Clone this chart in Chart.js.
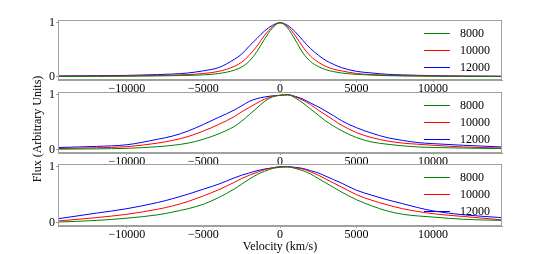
<!DOCTYPE html>
<html>
<head>
<meta charset="utf-8">
<script src="https://cdn.jsdelivr.net/npm/chart.js@4/dist/chart.umd.min.js"></script>
<style>
html,body{margin:0;padding:0;background:#fff;}
#wrap{position:relative;width:538px;height:254px;overflow:hidden;background:#fff;}
canvas{position:absolute;left:0;}
#ytitle{position:absolute;width:200px;left:-63px;top:122px;text-align:center;font:12px 'Liberation Serif',serif;color:#000;transform:rotate(-90deg);transform-origin:50% 50%;white-space:nowrap;line-height:14px;}
</style>
</head>
<body>
<div id="wrap">
<canvas id="c1"></canvas>
<canvas id="c2"></canvas>
<canvas id="c3"></canvas>
<div id="ytitle">Flux (Arbitrary Units)</div>
</div>
<script>
const velocities = [-14500,-12000,-10000,-8000,-7000,-6000,-5000,-4000,-3000,-2500,-2000,-1500,-1000,-500,0,500,1000,1500,2000,2500,3000,3500,4000,5000,6000,7000,8000,9000,10000,12000,14500];
const seriesLabels = ['8000','10000','12000'];
const xTicks = [-10000,-5000,0,5000,10000];
const yTicks = [0,1];

const top8000 = [.005,.008,.01,.015,.02,.025,.035,.06,.12,.18,.29,.47,.70,.90,1,.90,.68,.44,.28,.19,.13,.095,.07,.045,.03,.02,.015,.012,.01,.008,.005];
const top10000 = [.01,.012,.015,.025,.03,.04,.06,.10,.19,.27,.40,.57,.77,.92,1,.93,.76,.55,.38,.27,.19,.14,.11,.06,.04,.03,.02,.018,.015,.01,.008];
const top12000 = [.015,.02,.025,.04,.05,.07,.11,.17,.32,.42,.57,.71,.85,.95,1,.95,.83,.67,.52,.40,.30,.23,.17,.10,.07,.045,.035,.027,.02,.012,.01];

const mid8000 = [.01,.015,.025,.055,.08,.12,.19,.29,.42,.52,.64,.76,.88,.96,.99,1.0,.94,.85,.74,.63,.52,.43,.35,.22,.14,.10,.07,.05,.04,.03,.02];
const mid10000 = [.02,.035,.055,.12,.17,.24,.34,.46,.60,.69,.77,.85,.92,.97,.99,1.0,.96,.90,.82,.72,.63,.54,.45,.31,.22,.16,.12,.10,.08,.05,.03];
const mid12000 = [.04,.06,.09,.19,.25,.34,.46,.59,.72,.80,.88,.93,.96,.98,.99,1.0,.97,.92,.85,.78,.70,.62,.53,.40,.30,.22,.17,.13,.11,.08,.05];

const bot8000 = [.01,.04,.08,.14,.19,.25,.33,.45,.60,.69,.78,.86,.92,.97,.99,1.0,.97,.93,.87,.79,.71,.63,.55,.41,.30,.21,.15,.12,.10,.06,.04];
const bot10000 = [.03,.09,.15,.24,.30,.38,.48,.59,.72,.79,.85,.90,.95,.98,1.0,1.0,.98,.96,.91,.85,.78,.71,.64,.50,.40,.32,.25,.20,.16,.11,.05];
const bot12000 = [.07,.17,.25,.36,.43,.51,.60,.69,.80,.85,.89,.93,.96,.98,1.0,1.0,.99,.97,.93,.89,.83,.77,.71,.58,.49,.41,.34,.27,.21,.14,.09];

const colors = ['#008000','#ff0000','#0000ff'];
const FONT = "'Liberation Serif', 'Times New Roman', serif";
Chart.defaults.font.family = FONT;
Chart.defaults.font.size = 12;
Chart.defaults.color = '#000';

const framePlugin = {
  id: 'frame',
  afterDatasetsDraw(chart) {
    const {ctx, chartArea: a} = chart;
    ctx.save();
    ctx.strokeStyle = '#a0a0a0';
    ctx.lineWidth = 1;
    const l = Math.round(a.left) + 0.5, t = Math.round(a.top) + 0.5;
    const r = Math.round(a.right) - 0.5, b = Math.round(a.bottom) - 0.5;
    ctx.strokeRect(l, t, r - l, b - t);
    ctx.restore();
  }
};

const legendPlugin = {
  id: 'inlegend',
  afterDraw(chart) {
    const {ctx, chartArea: a} = chart;
    const offs = [12.5, 29.5, 46.5];
    ctx.save();
    ctx.font = '12px ' + FONT;
    ctx.textBaseline = 'middle';
    ctx.textAlign = 'left';
    chart.data.datasets.forEach((ds, i) => {
      const y = Math.round(a.top + offs[i]) + 0.5;
      ctx.strokeStyle = ds.borderColor;
      ctx.lineWidth = 1;
      ctx.beginPath();
      ctx.moveTo(a.right - 78, y);
      ctx.lineTo(a.right - 52, y);
      ctx.stroke();
      ctx.fillStyle = '#000';
      ctx.fillText(ds.label, a.right - 42, y + 0.5);
    });
    ctx.restore();
  }
};

function fmt(v) { return v < 0 ? '\u2212' + Math.abs(v) : String(v); }

function makeChart(id, top, height, xAxisH, series, showTitle) {
  const cv = document.getElementById(id);
  cv.style.top = top + 'px';
  cv.width = 538; cv.height = height;
  cv.style.width = '538px'; cv.style.height = height + 'px';
  const datasets = series.map((vals, i) => ({
    label: seriesLabels[i],
    data: velocities.map((v, k) => ({x: v, y: vals[k]})),
    borderColor: colors[i],
    borderWidth: 1,
    pointRadius: 0,
    fill: false,
    cubicInterpolationMode: 'monotone'
  }));
  return new Chart(cv, {
    type: 'line',
    data: {datasets},
    plugins: [framePlugin, legendPlugin],
    options: {
      responsive: false,
      animation: false,
      devicePixelRatio: 1,
      layout: {padding: {top: 4, left: 0, right: 36, bottom: 0}},
      plugins: {legend: {display: false}, tooltip: {enabled: false}},
      scales: {
        x: {
          type: 'linear', min: -14500, max: 14500,
          afterBuildTicks: s => { s.ticks = xTicks.map(v => ({value: v})); },
          afterFit: s => { s.height = xAxisH; s.paddingLeft = 0; s.paddingRight = 0; },
          grid: {drawOnChartArea: false, drawTicks: true, tickLength: 2, color: '#a0a0a0'},
          border: {display: true, color: '#a0a0a0'},
          ticks: {padding: 0, maxRotation: 0, autoSkip: false, callback: v => fmt(v), font: {size: 12}},
          title: {display: showTitle, text: 'Velocity (km/s)', padding: {top: 0, bottom: 0}, font: {size: 12}}
        },
        y: {
          min: -0.06, max: 1.05,
          afterBuildTicks: s => { s.ticks = yTicks.map(v => ({value: v})); },
          afterFit: s => { s.width = 58; s.paddingTop = 0; s.paddingBottom = 0; },
          grid: {drawOnChartArea: false, drawTicks: true, tickLength: 2, color: '#a0a0a0'},
          border: {display: true, color: '#a0a0a0'},
          ticks: {padding: 1, callback: v => String(v), font: {size: 12}}
        }
      }
    }
  });
}

makeChart('c1', 16, 84, 20, [top8000, top10000, top12000], false);
makeChart('c2', 88, 85, 20, [mid8000, mid10000, mid12000], false);
makeChart('c3', 160, 94, 28, [bot8000, bot10000, bot12000], true);
</script>
</body>
</html>
